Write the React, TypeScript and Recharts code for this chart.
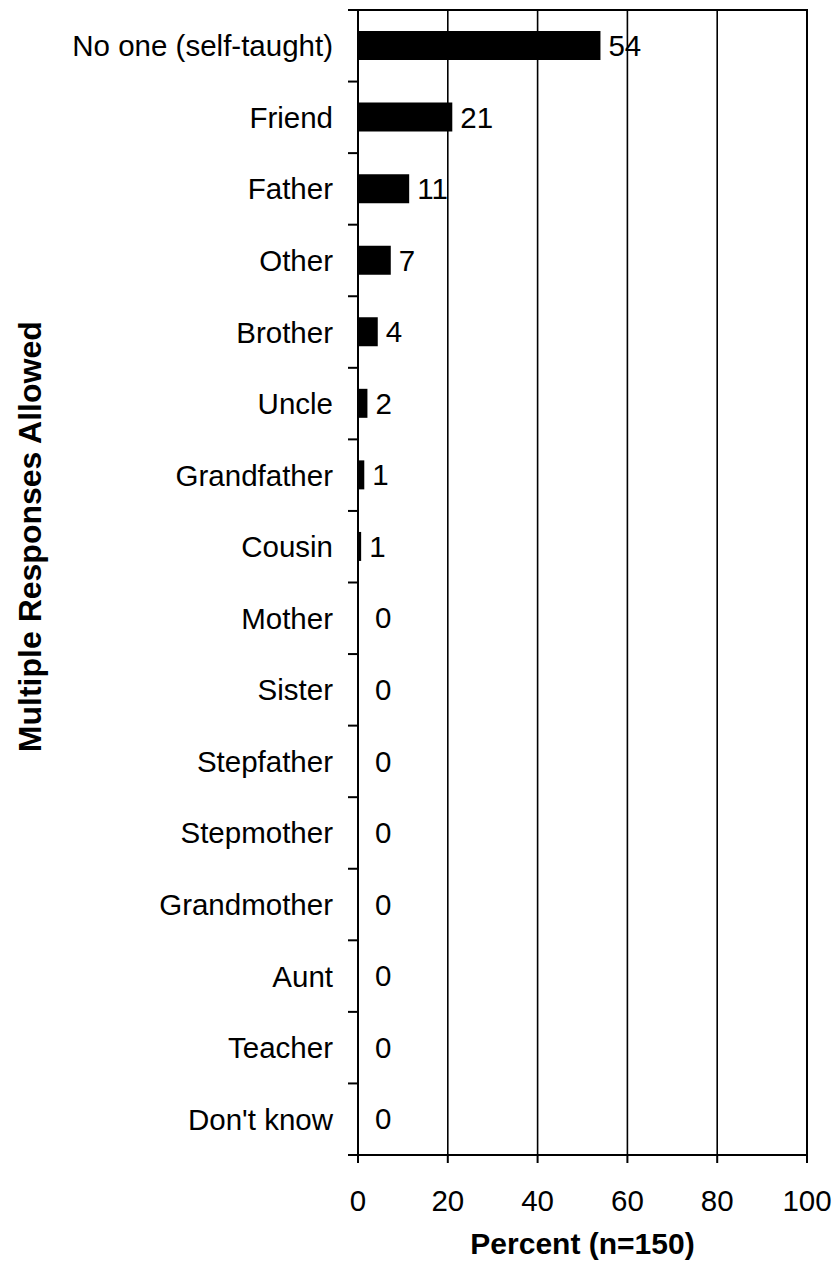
import React from 'react';
import { BarChart, Bar, XAxis, YAxis, CartesianGrid, ReferenceArea, LabelList } from 'recharts';

const categories = [
  'No one (self-taught)', 'Friend', 'Father', 'Other', 'Brother', 'Uncle', 'Grandfather', 'Cousin',
  'Mother', 'Sister', 'Stepfather', 'Stepmother', 'Grandmother', 'Aunt', 'Teacher', "Don't know",
];
const percents = [54, 21, 11.4, 7.3, 4.4, 2.1, 1.4, 0.7, 0, 0, 0, 0, 0, 0, 0, 0];
const xTicks = [0, 20, 40, 60, 80, 100];
const xTitle = 'Percent (n=150)';
const yTitle = 'Multiple Responses Allowed';

const data = categories.map((name, i) => ({ name, value: percents[i] }));

const FONT = '"Liberation Sans", Arial, Helvetica, sans-serif';
const FS = 29.5;
const Y_TICK_SIZE = 10;
const Y_TICK_MARGIN = 15;

const CategoryTick = (props: any) => {
  const { x, y, payload, index, visibleTicksCount, height } = props;
  const half = height / visibleTicksCount / 2;
  const axisX = x + Y_TICK_SIZE + Y_TICK_MARGIN;
  const isLast = index === visibleTicksCount - 1;
  return (
    <g>
      <line x1={axisX - Y_TICK_SIZE} x2={axisX} y1={y - half} y2={y - half} stroke="#000" strokeWidth={2} />
      {isLast && (
        <line x1={axisX - Y_TICK_SIZE} x2={axisX} y1={y + half} y2={y + half} stroke="#000" strokeWidth={2} />
      )}
      <text x={x} y={y} dy="0.355em" textAnchor="end" fontSize={FS} fontFamily={FONT} fill="#000">
        {payload.value}
      </text>
    </g>
  );
};

const renderBarLabel = (props: any) => {
  const { x, y, width, height, value } = props;
  const v = Number(value);
  const gap = v === 0 ? 17 : 8;
  return (
    <text x={Number(x) + (v === 0 ? 0 : Number(width)) + gap} y={Number(y) + Number(height) / 2} dy="0.355em"
      fontSize={FS} fontFamily={FONT} fill="#000" textAnchor="start">
      {Math.round(v)}
    </text>
  );
};

const YTitle = (props: any) => {
  const vb = props.viewBox;
  const cx = vb.x + 30;
  const cy = vb.y + vb.height * 0.46;
  return (
    <text x={cx} y={cy} transform={`rotate(-90, ${cx}, ${cy})`} textAnchor="middle" dy="0.355em"
      fontSize={32} fontWeight="bold" fontFamily={FONT} fill="#000">
      {yTitle}
    </text>
  );
};

const XTitle = (props: any) => {
  const vb = props.viewBox;
  return (
    <text x={vb.x + vb.width / 2} y={vb.y + 99} textAnchor="middle"
      fontSize={30} fontWeight="bold" fontFamily={FONT} fill="#000">
      {xTitle}
    </text>
  );
};

export default function App() {
  return (
    <div style={{ position: 'absolute', left: 0, top: 0, width: 838, height: 1266, background: '#fff' }}>
      <BarChart
        width={838}
        height={1266}
        data={data}
        layout="vertical"
        margin={{ top: 10, right: 31, bottom: 0, left: 0 }}
        barCategoryGap={0}
      >
        <CartesianGrid horizontal={false} vertical={true} stroke="#000" strokeWidth={1.6} />
        <XAxis
          type="number"
          domain={[0, 100]}
          ticks={xTicks}
          interval={0}
          height={111}
          tickSize={8}
          tickMargin={27}
          axisLine={{ stroke: '#000', strokeWidth: 2 }}
          tickLine={{ stroke: '#000', strokeWidth: 2 }}
          tick={{ fill: '#000', fontSize: FS, fontFamily: FONT }}
          label={{ content: XTitle } as any}
        />
        <YAxis
          type="category"
          dataKey="name"
          width={358}
          interval={0}
          tickSize={Y_TICK_SIZE}
          tickMargin={Y_TICK_MARGIN}
          tickLine={false}
          axisLine={{ stroke: '#000', strokeWidth: 2 }}
          tick={<CategoryTick />}
          label={{ content: YTitle } as any}
        />
        <ReferenceArea x1={0} x2={100} fill="none" fillOpacity={0} stroke="#000" strokeWidth={2} ifOverflow="visible" />
        <Bar dataKey="value" fill="#000" barSize={29} minPointSize={0.01} isAnimationActive={false}>
          <LabelList dataKey="value" content={renderBarLabel} />
        </Bar>
      </BarChart>
    </div>
  );
}
